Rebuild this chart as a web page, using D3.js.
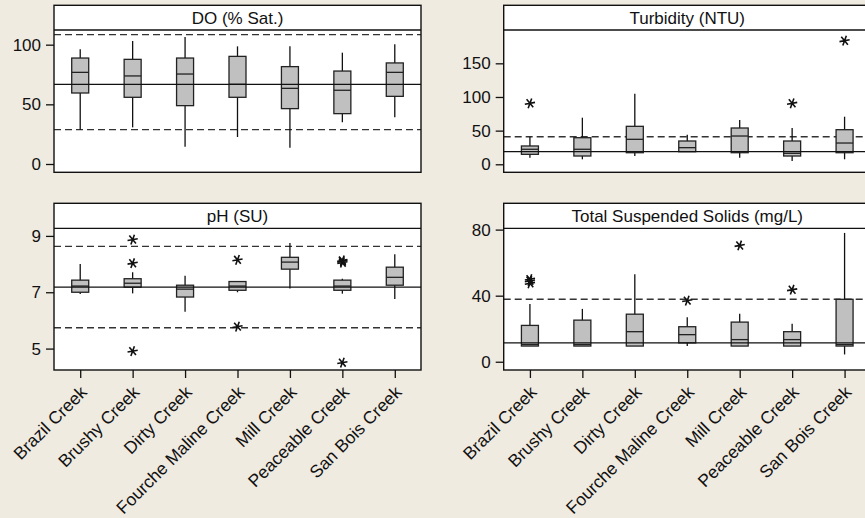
<!DOCTYPE html>
<html>
<head>
<meta charset="utf-8">
<script src="https://cdn.jsdelivr.net/npm/d3@7"></script>
<style>
  html, body { margin: 0; padding: 0; background: #f0ebe1; }
  svg { display: block; }
</style>
</head>
<body>
<svg id="chart" width="865" height="518"></svg>
<script>
// ---------- DATA ----------
const creeks = ["Brazil Creek", "Brushy Creek", "Dirty Creek", "Fourche Maline Creek", "Mill Creek", "Peaceable Creek", "San Bois Creek"];

// [lower whisker, Q1, median, Q3, upper whisker]
const doStats = [
  [28.8, 59.5, 76.8, 88.8, 96.1],
  [30.7, 55.9, 73.8, 87.7, 103.1],
  [14.5, 48.9, 75.4, 88.8, 106.5],
  [22.6, 55.9, 66.8, 90.2, 98.6],
  [13.7, 46.4, 63.4, 81.6, 98.6],
  [35.0, 42.2, 61.8, 77.9, 93.3],
  [39.1, 56.7, 76.8, 84.7, 100.3]
];
const doOutliers = [[], [], [], [], [], [], []];
const doTicks = [0, 50, 100];
const doRefs = [108.4, 28.8];   // dashed limits
const doMedianAll = 66.8;        // solid line

const turbStats = [
  [9.8, 14.8, 22.3, 27.2, 41],
  [7.4, 12.3, 22.3, 39.5, 69.2],
  [12.3, 17.2, 37.1, 56.4, 104.9],
  [18.7, 18.7, 24.7, 34.6, 44],
  [9.8, 17.2, 42, 53.9, 65.8],
  [4.9, 12.3, 16.3, 34.6, 53.9],
  [7.4, 17.2, 31.6, 51.4, 70.7]
];
const turbOutliers = [[90.6], [], [], [], [], [90.6], [183.6]];
const turbTicks = [0, 50, 100, 150];
const turbRefs = [41];
const turbMedianAll = 18.7;

const phStats = [
  [6.94, 7.0, 7.22, 7.43, 8.0],
  [6.96, 7.18, 7.32, 7.48, 7.71],
  [6.31, 6.83, 7.11, 7.25, 7.59],
  [7.0, 7.07, 7.22, 7.38, 7.38],
  [7.13, 7.82, 8.07, 8.24, 8.75],
  [6.95, 7.07, 7.22, 7.43, 7.48],
  [6.76, 7.25, 7.53, 7.89, 8.35]
];
const phOutliers = [[], [8.87, 8.03, 4.91], [], [8.15, 5.78], [], [8.05, 8.1, 8.13, 4.5], []];
const phTicks = [5, 7, 9];
const phRefs = [8.63, 5.74];
const phMedianAll = 7.18;

const tssStats = [
  [9.5, 9.5, 10.4, 22, 35],
  [9.5, 9.5, 10.4, 25.2, 32],
  [9.5, 9.5, 18.2, 28.8, 53],
  [9.6, 11.4, 16.4, 21.2, 27],
  [9.5, 9.5, 13.4, 24, 29],
  [9.5, 9.5, 13.4, 18.2, 23],
  [4.4, 9.5, 10.4, 37.8, 78]
];
const tssOutliers = [[47.5, 49, 50], [], [], [37], [70.4], [43.6], []];
const tssTicks = [0, 40, 80];
const tssRefs = [37.8];
const tssMedianAll = 11.4;

// ---------- LAYOUT ----------
const svg = d3.select("#chart");
const FONT = "'Liberation Sans', Arial, sans-serif";

const panels = [
  { title: "DO (% Sat.)", stats: doStats, outliers: doOutliers, ticks: doTicks, refs: doRefs, mid: doMedianAll,
    x0: 54, x1: 421, top: 5.3, strip: 30, bottom: 172.3, domain: [-6.96, 112.3], xlabels: false },
  { title: "Turbidity (NTU)", stats: turbStats, outliers: turbOutliers, ticks: turbTicks, refs: turbRefs, mid: turbMedianAll,
    x0: 503.7, x1: 870.8, top: 5.3, strip: 30, bottom: 172.3, domain: [-11.9, 199.5], xlabels: false },
  { title: "pH (SU)", stats: phStats, outliers: phOutliers, ticks: phTicks, refs: phRefs, mid: phMedianAll,
    x0: 54, x1: 421, top: 203.3, strip: 228.3, bottom: 370, domain: [4.24, 9.27], xlabels: true },
  { title: "Total Suspended Solids (mg/L)", stats: tssStats, outliers: tssOutliers, ticks: tssTicks, refs: tssRefs, mid: tssMedianAll,
    x0: 503.7, x1: 870.8, top: 203.3, strip: 228.3, bottom: 370, domain: [-5.0, 80.8], xlabels: true }
];

const boxW = 17;

panels.forEach(p => {
  const g = svg.append("g");
  const x = d3.scalePoint().domain(creeks).range([p.x0, p.x1]).padding(0.5);
  const y = d3.scaleLinear().domain(p.domain).range([p.bottom, p.strip]);

  // panel background
  g.append("rect").attr("x", p.x0).attr("y", p.top)
    .attr("width", p.x1 - p.x0).attr("height", p.bottom - p.top)
    .attr("fill", "#ffffff");

  // reference lines
  p.refs.forEach(v => {
    g.append("line").attr("x1", p.x0).attr("x2", p.x1)
      .attr("y1", y(v)).attr("y2", y(v))
      .attr("stroke", "#333").attr("stroke-width", 1.4).attr("stroke-dasharray", "7,4");
  });

  // boxes
  const bx = g.selectAll("g.box").data(p.stats).join("g").attr("class", "box")
    .attr("transform", (d, i) => `translate(${x(creeks[i])},0)`);
  bx.append("line").attr("x1", 0).attr("x2", 0)
    .attr("y1", d => y(d[0])).attr("y2", d => y(d[4]))
    .attr("stroke", "#111").attr("stroke-width", 1.3);
  bx.append("rect").attr("x", -boxW / 2).attr("width", boxW)
    .attr("y", d => y(d[3])).attr("height", d => y(d[1]) - y(d[3]))
    .attr("fill", "#c0c0c0").attr("stroke", "#222").attr("stroke-width", 1.3);
  bx.append("line").attr("x1", -boxW / 2).attr("x2", boxW / 2)
    .attr("y1", d => y(d[2])).attr("y2", d => y(d[2]))
    .attr("stroke", "#222").attr("stroke-width", 1.3);

  // overall solid line (drawn over boxes)
  g.append("line").attr("x1", p.x0).attr("x2", p.x1)
    .attr("y1", y(p.mid)).attr("y2", y(p.mid))
    .attr("stroke", "#111").attr("stroke-width", 1.3);

  // outliers
  const sym = d3.symbol().type(d3.symbolAsterisk).size(75);
  p.outliers.forEach((arr, i) => {
    arr.forEach(v => {
      g.append("path").attr("d", sym())
        .attr("transform", `translate(${x(creeks[i])},${y(v)}) rotate(20)`)
        .attr("fill", "none").attr("stroke", "#111").attr("stroke-width", 1.6);
    });
  });

  // title strip
  g.append("line").attr("x1", p.x0).attr("x2", p.x1)
    .attr("y1", p.strip).attr("y2", p.strip)
    .attr("stroke", "#111").attr("stroke-width", 1.3);
  g.append("text").attr("x", (p.x0 + p.x1) / 2).attr("y", (p.top + p.strip) / 2 + 1)
    .attr("text-anchor", "middle").attr("dominant-baseline", "central")
    .attr("font-family", FONT).attr("font-size", 17).attr("fill", "#111")
    .text(p.title);

  // frame
  g.append("rect").attr("x", p.x0).attr("y", p.top)
    .attr("width", p.x1 - p.x0).attr("height", p.bottom - p.top)
    .attr("fill", "none").attr("stroke", "#111").attr("stroke-width", 1.4);

  // y axis
  const ya = g.append("g").attr("transform", `translate(${p.x0},0)`)
    .call(d3.axisLeft(y).tickValues(p.ticks).tickFormat(d3.format("d")).tickSize(8).tickPadding(5));
  ya.select(".domain").remove();
  ya.selectAll("line").attr("stroke", "#111").attr("stroke-width", 1.3);
  ya.selectAll("text").attr("font-family", FONT).attr("font-size", 17).attr("fill", "#111");

  // x axis
  if (p.xlabels) {
    const xa = g.append("g").attr("transform", `translate(0,${p.bottom})`)
      .call(d3.axisBottom(x).tickSize(8));
    xa.select(".domain").remove();
    xa.selectAll("line").attr("stroke", "#111").attr("stroke-width", 1.3);
    xa.selectAll("text")
      .attr("x", 0).attr("y", 0).attr("dy", "0.35em")
      .attr("transform", "translate(3,19) rotate(-45)")
      .attr("text-anchor", "end")
      .attr("font-family", FONT).attr("font-size", 17.5).attr("fill", "#111");
  }
});
</script>
</body>
</html>
